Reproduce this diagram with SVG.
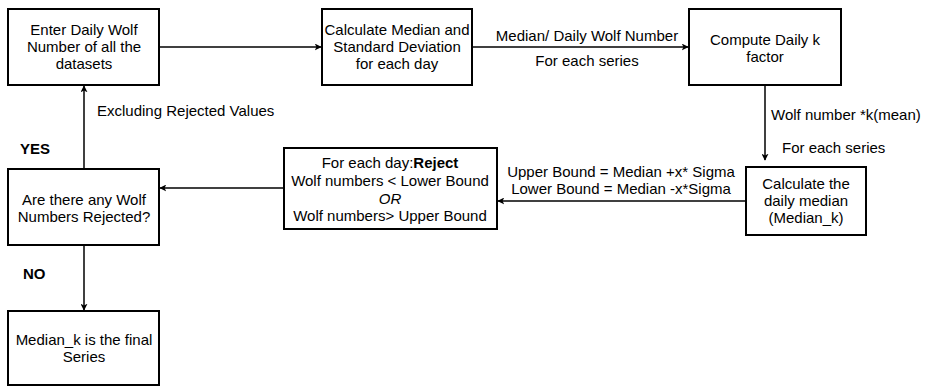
<svg xmlns="http://www.w3.org/2000/svg" width="927" height="387" viewBox="0 0 927 387">
  <style>
    .box { fill: #ffffff; stroke: #000000; stroke-width: 2; }
    .edge { fill: none; stroke: #000000; stroke-width: 1.5; }
    text { font-family: "Liberation Sans", Arial, sans-serif; font-size: 15px; fill: #000000; }
    .c { text-anchor: middle; }
    .b { font-weight: bold; }
  </style>
  <defs>
    <marker id="arrow" viewBox="0 0 10 10" refX="9" refY="5" markerWidth="7" markerHeight="7" markerUnits="userSpaceOnUse" orient="auto">
      <path d="M0,0 L10,5 L0,10 L2.5,5 Z" fill="#000000"/>
    </marker>
  </defs>
  <rect width="927" height="387" fill="#ffffff"/>

  <!-- connectors -->
  <g id="connectors">
    <line class="edge" x1="159" y1="47" x2="321" y2="47" marker-end="url(#arrow)"/>
    <line class="edge" x1="472" y1="47" x2="688" y2="47" marker-end="url(#arrow)"/>
    <line class="edge" x1="765" y1="85" x2="765" y2="160" marker-end="url(#arrow)"/>
    <line class="edge" x1="746" y1="201" x2="498" y2="201" marker-end="url(#arrow)"/>
    <line class="edge" x1="284" y1="188" x2="160" y2="188" marker-end="url(#arrow)"/>
    <line class="edge" x1="84" y1="169" x2="84" y2="86" marker-end="url(#arrow)"/>
    <line class="edge" x1="84" y1="245" x2="84" y2="310" marker-end="url(#arrow)"/>

    <text class="c" x="587" y="41">Median/ Daily Wolf Number</text>
    <text class="c" x="587" y="66">For each series</text>
    <text x="771" y="120">Wolf number *k(mean)</text>
    <text x="782" y="153">For each series</text>
    <text class="c" x="621" y="177">Upper Bound = Median +x* Sigma</text>
    <text class="c" x="621" y="194">Lower Bound = Median -x*Sigma</text>
    <text x="97" y="116">Excluding Rejected Values</text>
    <text class="b" x="20" y="154">YES</text>
    <text class="b" x="23" y="279">NO</text>
  </g>

  <g id="enter">
    <rect class="box" x="8" y="9" width="151" height="76"/>
    <text class="c" x="84" y="35">Enter Daily Wolf</text>
    <text class="c" x="84" y="52">Number of all the</text>
    <text class="c" x="84" y="69">datasets</text>
  </g>

  <g id="median-std">
    <rect class="box" x="322" y="9" width="150" height="76"/>
    <text class="c" x="397" y="35">Calculate Median and</text>
    <text class="c" x="397" y="52">Standard Deviation</text>
    <text class="c" x="397" y="69">for each day</text>
  </g>

  <g id="k-factor">
    <rect class="box" x="689" y="9" width="152" height="76"/>
    <text class="c" x="765" y="45">Compute Daily k</text>
    <text class="c" x="765" y="62">factor</text>
  </g>

  <g id="daily-median">
    <rect class="box" x="746" y="167" width="120" height="68"/>
    <text class="c" x="806" y="189">Calculate the</text>
    <text class="c" x="806" y="206">daily median</text>
    <text class="c" x="806" y="223">(Median_k)</text>
  </g>

  <g id="reject">
    <rect class="box" x="284" y="148" width="213" height="81"/>
    <text class="c" x="390" y="168">For each day:<tspan class="b">Reject</tspan></text>
    <text class="c" x="390" y="186">Wolf numbers &lt; Lower Bound</text>
    <text class="c" x="390" y="204" font-style="italic">OR</text>
    <text class="c" x="390" y="221">Wolf numbers&gt; Upper Bound</text>
  </g>

  <g id="any-rejected">
    <rect class="box" x="8" y="169" width="151" height="76"/>
    <text class="c" x="84" y="205">Are there any Wolf</text>
    <text class="c" x="84" y="222">Numbers Rejected?</text>
  </g>

  <g id="final">
    <rect class="box" x="8" y="311" width="151" height="74"/>
    <text class="c" x="84" y="345">Median_k is the final</text>
    <text class="c" x="84" y="362">Series</text>
  </g>
</svg>
